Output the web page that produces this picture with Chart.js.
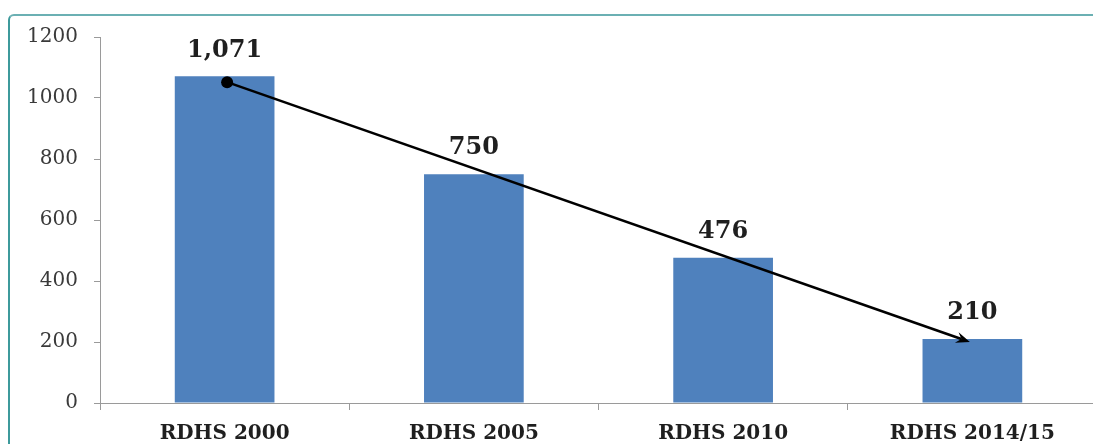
<!DOCTYPE html>
<html>
<head>
<meta charset="utf-8">
<script src="https://cdn.jsdelivr.net/npm/chart.js@4.4.0/dist/chart.umd.min.js"></script>
<style>
  html, body { margin: 0; padding: 0; background: #fff; overflow: hidden; }
  .wrap { position: relative; width: 1093px; height: 444px; overflow: hidden; }
  .frame {
    position: absolute; left: 8px; top: 14px; width: 1200px; height: 500px;
    border-top: 2px solid #6bb0b3; border-left: 2px solid #3d9a9c;
    border-top-left-radius: 6px; box-sizing: border-box;
  }
  .box { position: absolute; left: 0; top: 0; width: 1097px; height: 444px; }
</style>
</head>
<body>
<div class="wrap">
  <div class="frame"></div>
  <div class="box"><canvas id="chart"></canvas></div>
</div>
<script>
// survey rounds and values
const surveys = ['RDHS 2000', 'RDHS 2005', 'RDHS 2010', 'RDHS 2014/15'];
const ratios = [1071, 750, 476, 210];
const valueLabels = ['1,071', '750', '476', '210'];
const yTicks = [0, 200, 400, 600, 800, 1000, 1200];
// trend arrow: [category index, value] start -> end
const trendFrom = [0.01, 1052];
const trendTo = [2.99, 200];

const serif = "'DejaVu Serif', 'Liberation Serif', serif";

const labelsPlugin = {
  id: 'valueLabels',
  afterDatasetsDraw(chart) {
    const ctx = chart.ctx;
    const meta = chart.getDatasetMeta(0);
    ctx.save();
    ctx.font = 'bold 24px ' + serif;
    ctx.fillStyle = '#1f1f1f';
    ctx.textAlign = 'center';
    ctx.textBaseline = 'middle';
    meta.data.forEach((bar, i) => {
      ctx.fillText(valueLabels[i], bar.x, bar.y - 26);
    });
    ctx.restore();
  }
};

const arrowPlugin = {
  id: 'trendArrow',
  afterDatasetsDraw(chart) {
    const { x, y } = chart.scales;
    const ctx = chart.ctx;
    const x1 = x.getPixelForValue(trendFrom[0]), y1 = y.getPixelForValue(trendFrom[1]);
    const x2 = x.getPixelForValue(trendTo[0]), y2 = y.getPixelForValue(trendTo[1]);
    const ang = Math.atan2(y2 - y1, x2 - x1);
    const head = 15;
    ctx.save();
    ctx.strokeStyle = '#000';
    ctx.fillStyle = '#000';
    ctx.lineWidth = 2.6;
    ctx.beginPath();
    ctx.moveTo(x1, y1);
    ctx.lineTo(x2 - Math.cos(ang) * head * 0.6, y2 - Math.sin(ang) * head * 0.6);
    ctx.stroke();
    ctx.beginPath();
    ctx.arc(x1, y1, 6, 0, Math.PI * 2);
    ctx.fill();
    ctx.beginPath();
    ctx.moveTo(x2, y2);
    ctx.lineTo(x2 - head * Math.cos(ang - 0.38), y2 - head * Math.sin(ang - 0.38));
    ctx.lineTo(x2 - head * 0.6 * Math.cos(ang), y2 - head * 0.6 * Math.sin(ang));
    ctx.lineTo(x2 - head * Math.cos(ang + 0.38), y2 - head * Math.sin(ang + 0.38));
    ctx.closePath();
    ctx.fill();
    ctx.restore();
  }
};

new Chart(document.getElementById('chart'), {
  type: 'bar',
  data: {
    labels: surveys,
    datasets: [{
      data: ratios,
      backgroundColor: '#4f81bd',
      barPercentage: 0.4,
      categoryPercentage: 1.0
    }]
  },
  options: {
    responsive: true,
    maintainAspectRatio: false,
    animation: false,
    layout: { padding: { top: 37, right: 0, bottom: 0, left: 0 } },
    plugins: { legend: { display: false }, tooltip: { enabled: false } },
    scales: {
      x: {
        afterFit(scale) { scale.height = 41; },
        grid: { drawOnChartArea: false, offset: true, tickLength: 7, color: '#9a9a9a' },
        border: { color: '#9a9a9a', width: 1 },
        ticks: {
          color: '#1f1f1f', padding: 12,
          font: { family: serif, size: 20, weight: 'bold' }
        }
      },
      y: {
        min: 0, max: 1200,
        afterFit(scale) { scale.width = 100; },
        afterBuildTicks(scale) { scale.ticks = yTicks.map(v => ({ value: v })); },
        grid: { drawOnChartArea: false, tickLength: 6, color: '#9a9a9a' },
        border: { color: '#9a9a9a', width: 1 },
        ticks: {
          color: '#3a3a3a', padding: 16,
          font: { family: serif, size: 20 },
          callback: v => String(v)
        }
      }
    }
  },
  plugins: [labelsPlugin, arrowPlugin]
});
</script>
</body>
</html>
